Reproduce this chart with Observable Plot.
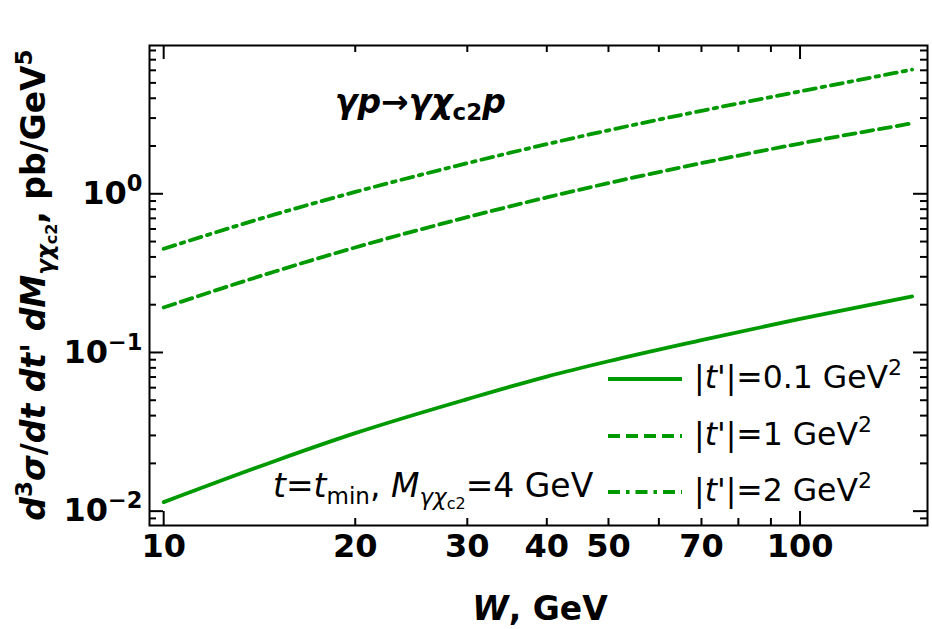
<!DOCTYPE html>
<html>
<head>
<meta charset="utf-8">
<script src="https://cdn.jsdelivr.net/npm/d3@7"></script>
<script src="https://cdn.jsdelivr.net/npm/@observablehq/plot@0.6"></script>
<style>
  html, body { margin: 0; padding: 0; background: white; }
  svg { display: block; }
</style>
</head>
<body>
<div id="chart"></div>
<script>
// ---- data ----
const W = [10, 15, 20, 30, 40, 50, 70, 100, 150];              // GeV
const sigmaT01 = [0.0114, 0.0208, 0.0310, 0.0508, 0.0705, 0.0880, 0.1195, 0.163, 0.2254]; // |t'|=0.1
const sigmaT1  = [0.192, 0.325, 0.459, 0.712, 0.949, 1.168, 1.560, 2.074, 2.78];          // |t'|=1
const sigmaT2  = [0.450, 0.744, 1.027, 1.559, 2.055, 2.513, 3.333, 4.418, 6.06];          // |t'|=2

const xLabelTicks = [10, 20, 30, 40, 50, 70, 100];
const xMajorTicks = [10, 100];
const xMinorTicks = [20, 30, 40, 50, 60, 70, 80, 90];
const yMajorTicks = [0.01, 0.1, 1];
const yMinorTicks = [0.009,
  0.02, 0.03, 0.04, 0.05, 0.06, 0.07, 0.08, 0.09,
  0.2, 0.3, 0.4, 0.5, 0.6, 0.7, 0.8, 0.9,
  2, 3, 4, 5, 6, 7, 8];
const yTickExponents = {0.01: "−2", 0.1: "−1", 1: "0"};

const seriesNames = ["|t'|=0.1 GeV²", "|t'|=1 GeV²", "|t'|=2 GeV²"];
const seriesValues = [sigmaT01, sigmaT1, sigmaT2];
const dashes = [null, "12,6", "12,6,3.5,6"];
const green = "#009a00";

// ---- layout ----
const width = 932, height = 629;
const mL = 149, mR = 5, mT = 45, mB = 104;
const innerW = width - mL - mR, innerH = height - mT - mB;
const majorLen = 14, minorLen = 7;

const rows = seriesValues.map((vals, i) => W.map((w, j) => ({W: w, v: vals[j], s: seriesNames[i]})));

const lineMarks = rows.map((r, i) => Plot.line(r, {
  x: "W", y: "v", stroke: green, strokeWidth: 3.8, curve: "monotone-x",
  strokeDasharray: dashes[i] || undefined
}));

const tk = {stroke: "black", strokeWidth: 2};
const chart = Plot.plot({
  width, height,
  marginLeft: mL, marginRight: mR, marginTop: mT, marginBottom: mB,
  style: {fontFamily: "DejaVu Sans", background: "white", color: "black"},
  x: {type: "log", domain: [9.5, 158.6]},
  y: {type: "log", domain: [0.00812, 8.6]},
  marks: [
    ...lineMarks,
    // inward ticks, bottom & top
    Plot.ruleX(xMajorTicks, {...tk, insetTop: innerH - majorLen}),
    Plot.ruleX(xMinorTicks, {...tk, insetTop: innerH - minorLen}),
    Plot.ruleX(xMajorTicks, {...tk, insetBottom: innerH - majorLen}),
    Plot.ruleX(xMinorTicks, {...tk, insetBottom: innerH - minorLen}),
    // inward ticks, left & right
    Plot.ruleY(yMajorTicks, {...tk, insetRight: innerW - majorLen}),
    Plot.ruleY(yMinorTicks, {...tk, insetRight: innerW - minorLen}),
    Plot.ruleY(yMajorTicks, {...tk, insetLeft: innerW - majorLen}),
    Plot.ruleY(yMinorTicks, {...tk, insetLeft: innerW - minorLen}),
    Plot.axisX({ticks: xLabelTicks, tickSize: 0, tickPadding: 9, label: null,
      fontSize: 32, fontWeight: "bold", tickFormat: d => String(d)}),
    Plot.axisY({ticks: yMajorTicks, tickSize: 0, tickPadding: 7, label: null,
      fontSize: 32, fontWeight: "bold", tickFormat: d => "10" + yTickExponents[d]}),
    Plot.frame({stroke: "black", strokeWidth: 2})
  ]
});

document.getElementById("chart").appendChild(chart);

// rebuild y tick labels with a true superscript exponent
d3.select(chart).selectAll('g[aria-label="y-axis tick label"] text').each(function () {
  const t = this.textContent;
  const exp = t.slice(2);
  this.textContent = "";
  const s = d3.select(this);
  s.append("tspan").text("10");
  s.append("tspan").attr("font-size", 22.5).attr("dy", -13).text(exp);
});

// ---- annotations, labels, legend ----
const svg = d3.select(chart);
function addText(markup) {
  chart.insertAdjacentHTML("beforeend", markup);
}

// y-axis label
addText(`<text transform="translate(45,285) rotate(-90)" text-anchor="middle" font-family="DejaVu Sans" font-weight="bold" font-size="33" fill="black"><tspan font-style="italic">d</tspan><tspan font-size="23" dy="-13">3</tspan><tspan dy="13" font-style="italic">σ</tspan>/<tspan font-style="italic">dt</tspan> <tspan font-style="italic">dt</tspan>' <tspan font-style="italic">dM</tspan><tspan font-size="23" dy="8" font-style="italic">γχ</tspan><tspan font-size="16" dy="4">c2</tspan><tspan dy="-12">, pb/GeV</tspan><tspan font-size="23" dy="-13">5</tspan></text>`);

// x-axis label
addText(`<text x="540" y="620" text-anchor="middle" font-family="DejaVu Sans" font-weight="bold" font-size="33" fill="black"><tspan font-style="italic">W</tspan>, GeV</text>`);

// process title
addText(`<text x="335" y="113" text-anchor="start" font-family="DejaVu Sans" font-weight="bold" font-size="33" fill="black"><tspan font-style="italic">γp</tspan>→<tspan font-style="italic">γχ</tspan><tspan font-size="23" dy="7">c2</tspan><tspan dy="-7" font-style="italic">p</tspan></text>`);

// kinematics annotation
addText(`<text x="273" y="497" text-anchor="start" font-family="DejaVu Sans" font-size="33" fill="black"><tspan font-style="italic">t</tspan>=<tspan font-style="italic">t</tspan><tspan font-size="23" dy="7">min</tspan><tspan dy="-7">, </tspan><tspan font-style="italic">M</tspan><tspan font-size="23" dy="8" font-style="italic">γχ</tspan><tspan font-size="16" dy="4">c2</tspan><tspan dy="-12">=4 GeV</tspan></text>`);

// legend
const legY = [379, 436, 492];
seriesNames.forEach((name, i) => {
  svg.append("line").attr("x1", 608).attr("x2", 682).attr("y1", legY[i]).attr("y2", legY[i])
    .attr("stroke", green).attr("stroke-width", 3.8)
    .attr("stroke-dasharray", dashes[i] || null);
  const val = name.replace("|t'|=", "").replace(" GeV²", "");
  addText(`<text x="694" y="${legY[i] + 9}" text-anchor="start" font-family="DejaVu Sans" font-size="31.5" fill="black">|<tspan font-style="italic">t</tspan>'|=${val} GeV<tspan font-size="22" dy="-13">2</tspan></text>`);
});
</script>
</body>
</html>
